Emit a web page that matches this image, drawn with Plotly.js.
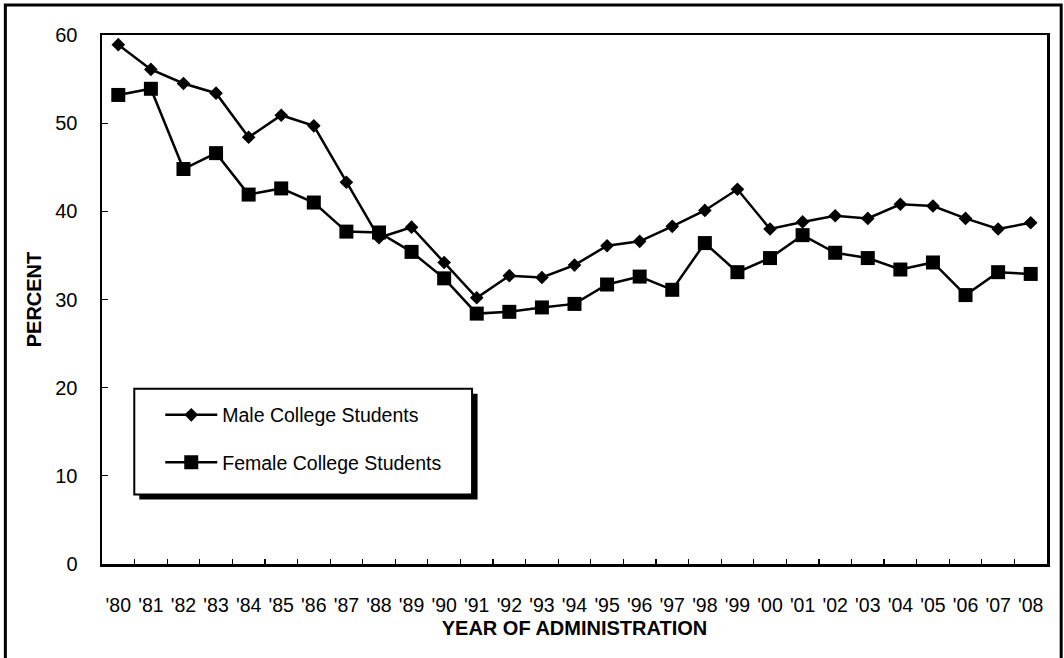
<!DOCTYPE html>
<html>
<head>
<meta charset="utf-8">
<script src="https://cdn.plot.ly/plotly-3.0.1.min.js"></script>
<style>html,body{margin:0;padding:0;background:#fff;}#chart{width:1064px;height:658px;}</style>
</head>
<body>
<div id="chart"></div>
<script>
const years = ["'80","'81","'82","'83","'84","'85","'86","'87","'88","'89","'90","'91","'92","'93","'94","'95","'96","'97","'98","'99","'00","'01","'02","'03","'04","'05","'06","'07","'08"];
const male = [58.9,56.1,54.5,53.4,48.4,50.9,49.7,43.3,37.0,38.2,34.2,30.2,32.7,32.5,33.9,36.1,36.6,38.3,40.1,42.5,38.0,38.8,39.5,39.2,40.8,40.6,39.2,38.0,38.7];
const female = [53.2,53.9,44.8,46.6,41.9,42.6,41.0,37.7,37.6,35.4,32.4,28.4,28.6,29.1,29.5,31.7,32.6,31.1,36.4,33.1,34.7,37.3,35.3,34.7,33.4,34.2,30.5,33.1,32.9];
const seriesNames = ["Male College Students","Female College Students"];
const yTitle = "PERCENT";
const xTitle = "YEAR OF ADMINISTRATION";

const W = 1064, H = 658;
const L = 101.7, R = 1047.3, T = 35, B = 564.5;
const pw = R - L, ph = B - T;
const px = x => (x - L) / pw;
const py = y => (B - y) / ph;
const FONT = "Liberation Sans, Arial, sans-serif";

const traces = [
  {x: years, y: male, name: seriesNames[0], type: 'scatter', mode: 'lines+markers',
   legendgroup: 'm',
   line: {color: '#000', width: 2.5}, marker: {symbol: 'diamond', size: 10.5, color: '#000'}},
  {x: years, y: female, name: seriesNames[1], type: 'scatter', mode: 'lines+markers',
   legendgroup: 'f',
   line: {color: '#000', width: 2.5}, marker: {symbol: 'square', size: 14, color: '#000'}}
];

const layout = {
  width: W, height: H,
  margin: {l: L, r: W - R, t: T, b: H - B, pad: 0},
  paper_bgcolor: '#fff', plot_bgcolor: '#fff',
  font: {family: FONT, color: '#000', size: 20},
  showlegend: true,
  legend: {
    x: px(160), y: py(396), xanchor: 'left', yanchor: 'top',
    bgcolor: 'rgba(0,0,0,0)', borderwidth: 0,
    font: {family: FONT, size: 19.5, color: '#000'},
    traceorder: 'grouped', tracegroupgap: 19, itemwidth: 52
  },
  xaxis: {
    type: 'category', range: [-0.5, 28.5],
    showline: true, linecolor: '#000', linewidth: 2.5, mirror: true,
    ticks: 'inside', ticklen: 5, tickwidth: 1.2, tickcolor: '#000', tickson: 'boundaries',
    showgrid: false, zeroline: false, tickangle: 0,
    tickfont: {family: FONT, size: 19.5, color: '#000'},
    ticklabelstandoff: 22,
    title: {text: xTitle, font: {family: FONT, size: 20, color: '#000', weight: 'bold'}, standoff: 6}
  },
  yaxis: {
    range: [0, 60], dtick: 10, tick0: 0,
    showline: true, linecolor: '#000', linewidth: 2.5, mirror: true,
    ticks: 'inside', ticklen: 6, tickwidth: 1.2, tickcolor: '#000',
    showgrid: false, zeroline: false,
    tickfont: {family: FONT, size: 20, color: '#000'},
    ticklabelstandoff: 18,
    title: {text: yTitle, font: {family: FONT, size: 20, color: '#000', weight: 'bold'}, standoff: 9}
  },
  shapes: [
    // outer frame
    {type: 'rect', xref: 'paper', yref: 'paper', x0: px(5), x1: px(1061.5), y0: py(700), y1: py(5),
     line: {color: '#000', width: 3}, fillcolor: 'rgba(0,0,0,0)', layer: 'below'},
    // legend shadow
    {type: 'rect', xref: 'paper', yref: 'paper', x0: px(139), x1: px(477.5), y0: py(500), y1: py(394),
     line: {width: 0}, fillcolor: '#000', layer: 'above'},
    // legend box
    {type: 'rect', xref: 'paper', yref: 'paper', x0: px(134), x1: px(472), y0: py(495), y1: py(389),
     line: {color: '#000', width: 2}, fillcolor: '#fff', layer: 'above'}
  ]
};

Plotly.newPlot('chart', traces, layout, {staticPlot: true, displayModeBar: false});
</script>
</body>
</html>
